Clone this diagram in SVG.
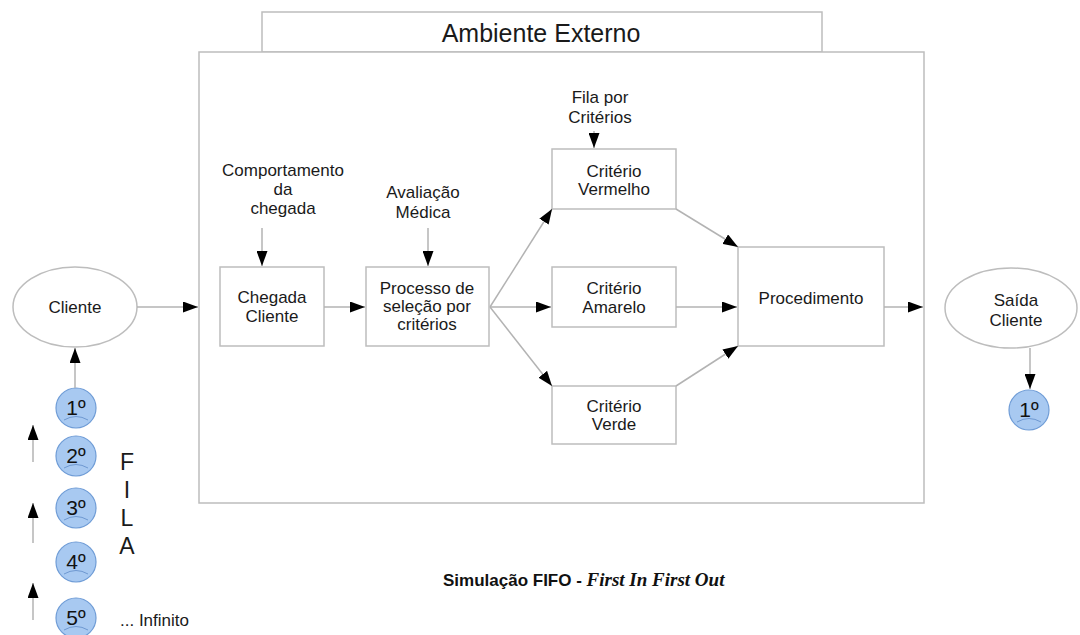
<svg xmlns="http://www.w3.org/2000/svg" width="1080" height="635" viewBox="0 0 1080 635">
<defs>
<marker id="ah" markerUnits="userSpaceOnUse" markerWidth="16" markerHeight="11" refX="15" refY="5.5" orient="auto">
<path d="M0,0 L15,5.5 L0,11 z" fill="#000"/>
</marker>
<style>
.box{fill:#fff;stroke:#bdbdbd;stroke-width:1.5}
.t{font-family:"Liberation Sans",Arial,sans-serif;font-size:17px;fill:#1a1a1a;text-anchor:middle}
.c{stroke:#b3b3b3;stroke-width:1.5;fill:none;marker-end:url(#ah)}
.q{fill:#a8c9f1;stroke:#6f9cd6;stroke-width:1.2}
.qt{font-family:"Liberation Sans",Arial,sans-serif;font-size:21px;fill:#111;text-anchor:middle}
.m{fill:none;stroke:#5f8cc8;stroke-width:0.8}
</style>
</defs>
<rect width="1080" height="635" fill="#fff"/>
<g id="ambiente">
<rect class="box" x="262" y="12" width="560" height="40"/>
<rect class="box" x="199" y="52" width="725" height="451"/>
<text class="t" x="541" y="42" style="font-size:25px">Ambiente Externo</text>
</g>
<g id="cliente">
<ellipse class="box" cx="75" cy="307" rx="62" ry="40"/>
<text class="t" x="75" y="313">Cliente</text>
</g>
<g id="comportamento">
<text class="t" x="283" y="176">Comportamento</text>
<text class="t" x="283" y="195">da</text>
<text class="t" x="283" y="214">chegada</text>
</g>
<g id="avaliacao">
<text class="t" x="423" y="198">Avaliação</text>
<text class="t" x="423" y="218">Médica</text>
</g>
<g id="fila-criterios">
<text class="t" x="600" y="103">Fila por</text>
<text class="t" x="600" y="123">Critérios</text>
</g>
<g id="chegada">
<rect class="box" x="220" y="267" width="104" height="79"/>
<text class="t" x="272" y="303">Chegada</text>
<text class="t" x="272" y="322">Cliente</text>
</g>
<g id="processo">
<rect class="box" x="366" y="267" width="123" height="79"/>
<text class="t" x="427" y="294">Processo de</text>
<text class="t" x="427" y="312">seleção por</text>
<text class="t" x="427" y="330">critérios</text>
</g>
<g id="vermelho">
<rect class="box" x="552" y="149" width="124" height="60"/>
<text class="t" x="614" y="177">Critério</text>
<text class="t" x="614" y="195">Vermelho</text>
</g>
<g id="amarelo">
<rect class="box" x="552" y="267" width="124" height="60"/>
<text class="t" x="614" y="294">Critério</text>
<text class="t" x="614" y="313">Amarelo</text>
</g>
<g id="verde">
<rect class="box" x="552" y="386" width="124" height="58"/>
<text class="t" x="614" y="412">Critério</text>
<text class="t" x="614" y="430">Verde</text>
</g>
<g id="procedimento">
<rect class="box" x="738" y="247" width="146" height="99"/>
<text class="t" x="811" y="304">Procedimento</text>
</g>
<g id="saida">
<ellipse class="box" cx="1011" cy="308" rx="66" ry="40"/>
<text class="t" x="1016" y="306">Saída</text>
<text class="t" x="1016" y="326">Cliente</text>
</g>
<g id="fila">
<g id="q1"><circle class="q" cx="76" cy="408" r="20"/><text class="qt" x="76" y="415">1º</text><path class="m" d="M64,420 Q76,413 88,420"/></g>
<g id="q2"><circle class="q" cx="76" cy="456" r="20"/><text class="qt" x="76" y="463">2º</text><path class="m" d="M64,468 Q76,461 88,468"/></g>
<g id="q3"><circle class="q" cx="76" cy="508" r="20"/><text class="qt" x="76" y="515">3º</text><path class="m" d="M64,520 Q76,513 88,520"/></g>
<g id="q4"><circle class="q" cx="76" cy="562" r="20"/><text class="qt" x="76" y="569">4º</text><path class="m" d="M64,574 Q76,567 88,574"/></g>
<g id="q5"><circle class="q" cx="76" cy="618" r="20"/><text class="qt" x="76" y="625">5º</text><path class="m" d="M64,630 Q76,623 88,630"/></g>
<g id="fila-label" class="t" style="font-size:23px">
<text x="127" y="470">F</text>
<text x="127" y="498">I</text>
<text x="127" y="526">L</text>
<text x="127" y="554">A</text>
</g>
<text class="t" x="120" y="626" style="text-anchor:start;font-size:17px">... Infinito</text>
</g>
<g id="saida-1">
<circle class="q" cx="1029" cy="410" r="20"/><text class="qt" x="1029" y="417">1º</text><path class="m" d="M1017,422 Q1029,415 1041,422"/>
</g>
<g id="connectors">
<line class="c" x1="137" y1="307" x2="198" y2="307"/>
<line class="c" x1="324" y1="307" x2="365" y2="307"/>
<line class="c" x1="262" y1="228" x2="262" y2="266"/>
<line class="c" x1="428" y1="228" x2="428" y2="266"/>
<line class="c" x1="594" y1="131" x2="594" y2="148"/>
<line class="c" x1="490" y1="307" x2="552" y2="209"/>
<line class="c" x1="490" y1="307" x2="551" y2="307"/>
<line class="c" x1="490" y1="307" x2="552" y2="386"/>
<line class="c" x1="676" y1="209" x2="738" y2="247"/>
<line class="c" x1="676" y1="307" x2="737" y2="307"/>
<line class="c" x1="676" y1="386" x2="738" y2="346"/>
<line class="c" x1="884" y1="307" x2="923" y2="307"/>
<line class="c" x1="1030" y1="348" x2="1030" y2="389"/>
<line class="c" x1="75" y1="388" x2="75" y2="348"/>
<line class="c" x1="33" y1="462" x2="33" y2="425"/>
<line class="c" x1="33" y1="543" x2="33" y2="503"/>
<line class="c" x1="33" y1="620" x2="33" y2="583"/>
</g>
<g id="caption">
<text x="443" y="586" style="font-family:'Liberation Sans',Arial,sans-serif;font-size:17px;font-weight:bold;fill:#111">Simulação FIFO - <tspan style="font-family:'Liberation Serif','Times New Roman',serif;font-style:italic;font-size:19px">First In First Out</tspan></text>
</g>
</svg>
